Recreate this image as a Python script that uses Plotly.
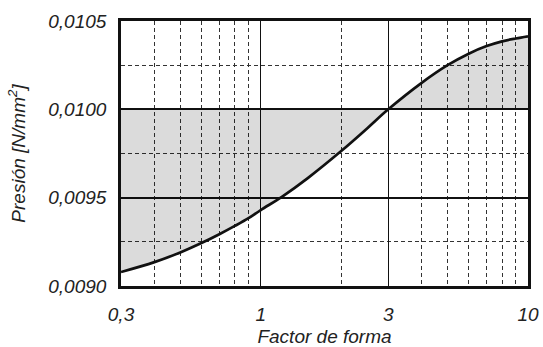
import math
import plotly.graph_objects as go

# Curve: pressure versus shape factor
factor = [0.3, 0.4, 0.5, 0.6, 0.7, 0.8, 0.9, 1.0, 1.2, 1.5, 2.0, 2.5,
          3.0, 4.0, 5.0, 6.0, 7.0, 8.0, 9.0, 10.0]
presion = [0.009079, 0.009135, 0.009190, 0.009243, 0.009293, 0.009340,
           0.009384, 0.009430, 0.009505, 0.009611, 0.009764, 0.009892,
           0.010000, 0.010150, 0.010250, 0.010315, 0.010358, 0.010385,
           0.010401, 0.010413]

# Reference pressure the shaded band is measured against
ref_level = 0.0100

# Axis ticks
x_ticks = [0.3, 1, 3, 10]
x_tick_text = ["0,3", "1", "3", "10"]
x_minor = [0.4, 0.5, 0.6, 0.7, 0.8, 0.9, 2, 4, 5, 6, 7, 8, 9]
y_ticks = [0.0090, 0.0095, 0.0100, 0.0105]
y_tick_text = ["0,0090", "0,0095", "0,0100", "0,0105"]
y_minor = [0.00925, 0.00975, 0.01025]

FONT = "Liberation Sans, Arial, sans-serif"
FSIZE = 19

fig = go.Figure()

# baseline at the reference level, used as the lower edge of the fill
fig.add_trace(go.Scatter(
    x=factor, y=[ref_level] * len(factor), mode="lines",
    line=dict(width=0, color="rgba(0,0,0,0)"), hoverinfo="skip",
    showlegend=False,
))
# pressure curve, shaded back to the reference level
fig.add_trace(go.Scatter(
    x=factor, y=presion, mode="lines",
    line=dict(color="#111111", width=2.7, shape="spline", smoothing=1.0),
    fill="tonexty", fillcolor="rgba(0,0,0,0.14)",
    showlegend=False,
))

fig.update_layout(
    width=543, height=347,
    margin=dict(l=121, r=15, t=21, b=61),
    paper_bgcolor="white", plot_bgcolor="white",
    font=dict(family=FONT, size=FSIZE, color="#222222", style="italic"),
    xaxis=dict(
        type="log",
        range=[math.log10(0.3), 1.0],
        tickvals=x_ticks, ticktext=x_tick_text,
        showgrid=True, gridcolor="#111111", gridwidth=1.3,
        showline=True, mirror=True, linecolor="#111111", linewidth=2.6,
        ticks="", ticklabelstandoff=9,
        zeroline=False,
        minor=dict(tickvals=x_minor, showgrid=True, gridcolor="#333333",
                   gridwidth=1, griddash="4px,3px", ticks=""),
        title=dict(text="Factor de forma", standoff=8,
                   font=dict(family=FONT, size=FSIZE, style="italic")),
        automargin=False,
    ),
    yaxis=dict(
        range=[0.0090, 0.0105],
        tickvals=y_ticks, ticktext=y_tick_text,
        showgrid=True, gridcolor="#111111", gridwidth=2,
        showline=True, mirror=True, linecolor="#111111", linewidth=2.6,
        ticks="", ticklabelstandoff=8,
        zeroline=False,
        minor=dict(tickvals=y_minor, showgrid=True, gridcolor="#333333",
                   gridwidth=1, griddash="4px,3px", ticks=""),
        title=dict(text="Presión [N/mm<sup>2</sup>]", standoff=18,
                   font=dict(family=FONT, size=FSIZE, style="italic")),
        automargin=False,
    ),
)

fig.write_html("out.html")
